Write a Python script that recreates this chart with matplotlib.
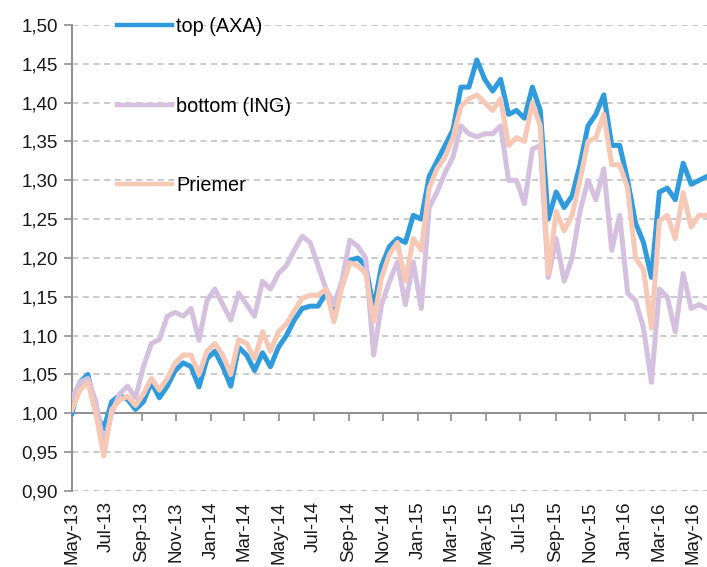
import matplotlib as mpl
mpl.use("Agg")
import matplotlib.pyplot as plt
import matplotlib.dates as mdates
import numpy as np
import pandas as pd

# --- Datos (lectura aproximada del gráfico, cada 14 días desde 1-may-2013) ---
start = "2013-05-01"
n_pts = 81

top_axa = [
    1.000, 1.040, 1.050, 1.000, 0.980, 1.015, 1.023, 1.018, 1.005, 1.015,
    1.040, 1.020, 1.035, 1.055, 1.065, 1.060, 1.034, 1.070, 1.080, 1.060,
    1.035, 1.085, 1.075, 1.055, 1.078, 1.060, 1.085, 1.100, 1.120, 1.135,
    1.138, 1.138, 1.155, 1.130, 1.165, 1.197, 1.200, 1.190, 1.135, 1.190,
    1.215, 1.225, 1.220, 1.255, 1.250, 1.305, 1.325, 1.345, 1.365, 1.420,
    1.420, 1.455, 1.430, 1.415, 1.430, 1.385, 1.390, 1.380, 1.420, 1.390,
    1.250, 1.285, 1.265, 1.280, 1.320, 1.370, 1.385, 1.410, 1.345, 1.345,
    1.300, 1.245, 1.220, 1.175, 1.285, 1.290, 1.275, 1.322, 1.295, 1.300,
    1.305,
]
bottom_ing = [
    1.020, 1.040, 1.045, 1.015, 0.960, 1.000, 1.025, 1.035, 1.020, 1.060,
    1.090, 1.095, 1.125, 1.130, 1.125, 1.135, 1.094, 1.145, 1.160, 1.140,
    1.120, 1.155, 1.140, 1.125, 1.170, 1.160, 1.180, 1.190, 1.210, 1.228,
    1.220, 1.190, 1.160, 1.140, 1.170, 1.223, 1.215, 1.200, 1.075, 1.140,
    1.170, 1.195, 1.140, 1.195, 1.135, 1.265, 1.285, 1.310, 1.330, 1.370,
    1.360, 1.356, 1.360, 1.360, 1.370, 1.300, 1.300, 1.270, 1.340, 1.345,
    1.175, 1.225, 1.170, 1.200, 1.260, 1.300, 1.275, 1.315, 1.210, 1.255,
    1.155, 1.145, 1.110, 1.040, 1.160, 1.150, 1.105, 1.180, 1.135, 1.140,
    1.135,
]
priemer = [
    1.005, 1.030, 1.040, 1.000, 0.945, 1.005, 1.017, 1.022, 1.010, 1.025,
    1.045, 1.030, 1.045, 1.065, 1.075, 1.075, 1.050, 1.080, 1.090, 1.075,
    1.050, 1.095, 1.090, 1.070, 1.105, 1.080, 1.105, 1.115, 1.132, 1.148,
    1.152, 1.152, 1.160, 1.118, 1.162, 1.194, 1.190, 1.180, 1.118, 1.175,
    1.205, 1.220, 1.170, 1.225, 1.210, 1.290, 1.315, 1.330, 1.355, 1.395,
    1.405, 1.410, 1.400, 1.390, 1.405, 1.345, 1.355, 1.350, 1.400, 1.370,
    1.180, 1.260, 1.235, 1.255, 1.300, 1.350, 1.355, 1.385, 1.320, 1.320,
    1.290, 1.200, 1.185, 1.110, 1.248, 1.255, 1.225, 1.284, 1.240, 1.255,
    1.255,
]

series_names = ["top (AXA)", "bottom (ING)", "Priemer"]
series_colors = ["#2F9BDC", "#D5C1DF", "#F7C8B6"]

dates = pd.date_range(start, periods=n_pts, freq="14D")
xnum = mdates.date2num(dates)

tick_dates = pd.date_range("2013-05-01", "2016-05-01", freq="2MS")
tick_labels = [d.strftime("%b-%y") for d in tick_dates]

yticks = np.round(np.arange(0.90, 1.5001, 0.05), 2)

# --- Estilo ---
mpl.rcParams.update({
    "font.family": ["Liberation Sans", "DejaVu Sans"],
    "font.size": 13.5,
})

fig = plt.figure(figsize=(7.07, 5.67), dpi=100)
ax = fig.add_axes([72 / 707, 1 - 491 / 567, 1 - 72 / 707, (491 - 25) / 567])

grid_kw = dict(color="#BDBDBD", linewidth=1.1, linestyle=(0, (4, 3)), zorder=0)
for yv in yticks:
    if abs(yv - 1.0) > 1e-9:
        ax.axhline(yv, **grid_kw)

for vals, name, col in zip([top_axa, bottom_ing, priemer], series_names, series_colors):
    ax.plot(xnum, vals, color=col, linewidth=3.6, label=name,
            solid_joinstyle="round", zorder=3)

ax.set_ylim(0.90, 1.50)
ax.set_xlim(xnum[0], xnum[-1])

# ejes
axis_col = "#8F8F8F"
for s in ["top", "right"]:
    ax.spines[s].set_visible(False)
ax.spines["left"].set_color(axis_col)
ax.spines["left"].set_linewidth(1.4)
ax.spines["bottom"].set_position(("data", 1.0))
ax.spines["bottom"].set_color(axis_col)
ax.spines["bottom"].set_linewidth(1.4)
ax.spines["bottom"].set_zorder(1)

ax.set_yticks(yticks)
ax.set_yticklabels([f"{v:.2f}".replace(".", ",") for v in yticks])
ax.tick_params(axis="y", direction="out", length=6, width=1.2,
               color=axis_col, pad=4, labelsize=13.5, labelcolor="#1a1a1a")

tick_num = mdates.date2num(tick_dates)
ax.set_xticks(tick_num)
ax.tick_params(axis="x", direction="out", length=6, width=1.2,
               color=axis_col, labelbottom=False)

# etiquetas de fecha abajo (el eje corta en 1,00)
trans = mpl.transforms.blended_transform_factory(ax.transData, ax.transAxes)
for xv, lab in zip(tick_num, tick_labels):
    ax.text(xv, -0.022, lab, transform=trans, rotation=90, ha="center",
            va="top", fontsize=13.5, color="#1a1a1a", clip_on=False)

leg = ax.legend(loc="upper left", bbox_to_anchor=(117 / 707, 1 - 17 / 567),
                bbox_transform=fig.transFigure, frameon=False,
                borderpad=0, borderaxespad=0, handlelength=2.75,
                handletextpad=0.22, labelspacing=3.05, fontsize=14.3)
for line in leg.get_lines():
    line.set_linewidth(3.2)

fig.savefig("out.png", dpi=100)
plt.close(fig)
